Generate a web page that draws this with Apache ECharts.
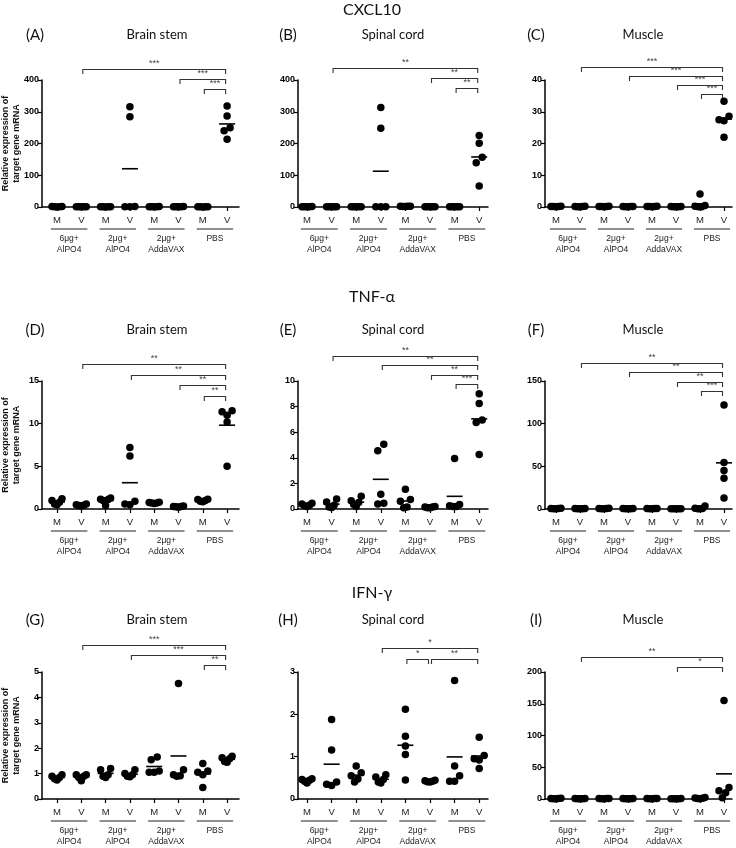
<!DOCTYPE html>
<html>
<head>
<meta charset="utf-8">
<script src="https://cdn.jsdelivr.net/npm/echarts@6/dist/echarts.min.js"></script>
<style>html,body{margin:0;padding:0;background:#fff}#main{width:736px;height:848px}</style>
</head>
<body>
<div id="main"></div>
<script>
// ---------- data ----------
const genes = ['CXCL10', 'TNF-α', 'IFN-γ'];
const tissues = ['Brain stem', 'Spinal cord', 'Muscle'];
const panelLetters = ['(A)', '(B)', '(C)', '(D)', '(E)', '(F)', '(G)', '(H)', '(I)'];
const subLabels = ['M', 'V', 'M', 'V', 'M', 'V', 'M', 'V'];
const groupLabels = ['6μg+\nAlPO4', '2μg+\nAlPO4', '2μg+\nAddaVAX', 'PBS'];
const yAxisTitle = 'Relative expression of\ntarget gene mRNA';

const yMax = [400, 400, 40, 15, 10, 150, 5, 3, 200];
const yInterval = [100, 100, 10, 5, 2, 50, 1, 1, 50];

// each panel: 8 groups (M,V per vaccine group), 5 animals each
const cxcl10_brainstem = [
  [1.2, 0.8, 0.5, 1.5, 0.3], [0.9, 0.6, 1.1, 0.4, 0.7],
  [0.5, 0.8, 0.3, 0.6, 1.0], [316, 284, 1.2, 0.8, 0.5],
  [0.7, 1.5, 0.9, 0.4, 1.1], [1.0, 0.8, 1.3, 0.6, 0.9],
  [0.4, 0.5, 0.7, 0.3, 0.6], [318, 287, 250, 240, 213]
];
const cxcl10_spinalcord = [
  [0.5, 0.8, 1.2, 0.6, 0.9], [0.7, 1.0, 0.5, 0.9, 1.1],
  [0.6, 0.9, 0.4, 0.8, 0.7], [313, 248, 0.9, 0.6, 0.8],
  [2.5, 1.8, 2.0, 1.5, 2.2], [0.6, 0.9, 0.7, 1.0, 0.5],
  [0.5, 0.7, 0.9, 0.6, 0.8], [225, 201, 157, 139, 66]
];
const cxcl10_muscle = [
  [0.15, 0.1, 0.2, 0.12, 0.18], [0.1, 0.15, 0.12, 0.2, 0.08],
  [0.12, 0.18, 0.1, 0.15, 0.2], [0.1, 0.14, 0.12, 0.17, 0.09],
  [0.15, 0.12, 0.2, 0.1, 0.18], [0.08, 0.12, 0.1, 0.15, 0.11],
  [4.1, 0.5, 0.2, 0.1, 0.1], [33.3, 28.6, 27.5, 27.2, 22.0]
];
const tnfa_brainstem = [
  [1.2, 1.0, 0.8, 0.6, 0.5], [0.6, 0.5, 0.45, 0.4, 0.35],
  [1.3, 1.15, 1.1, 1.0, 0.4], [7.2, 6.2, 0.9, 0.6, 0.5],
  [0.8, 0.75, 0.7, 0.7, 0.65], [0.35, 0.3, 0.3, 0.25, 0.2],
  [1.15, 1.1, 1.0, 0.9, 0.85], [11.5, 11.4, 11.0, 10.2, 5.0]
];
const tnfa_spinalcord = [
  [0.45, 0.4, 0.3, 0.25, 0.2], [0.78, 0.55, 0.3, 0.15, 0.12],
  [1.0, 0.65, 0.5, 0.35, 0.2], [5.05, 4.55, 1.15, 0.45, 0.4],
  [1.55, 0.75, 0.6, 0.15, 0.1], [0.2, 0.15, 0.15, 0.1, 0.1],
  [3.95, 0.35, 0.25, 0.2, 0.2], [9.0, 8.25, 6.95, 6.75, 4.25]
];
const tnfa_muscle = [
  [0.5, 0.3, 0.8, 0.4, 0.6], [0.3, 0.5, 0.4, 0.6, 0.2],
  [0.6, 0.4, 0.5, 0.8, 0.3], [0.3, 0.4, 0.5, 0.2, 0.6],
  [0.5, 0.7, 0.4, 0.6, 0.3], [0.2, 0.3, 0.4, 0.3, 0.2],
  [3.5, 1.0, 0.6, 0.4, 0.3], [122, 54.5, 45, 36, 13]
];
const ifng_brainstem = [
  [0.95, 0.9, 0.85, 0.8, 0.75], [0.95, 0.95, 0.9, 0.85, 0.72],
  [1.2, 1.15, 0.95, 0.9, 0.85], [1.15, 1.0, 0.95, 0.9, 0.88],
  [1.65, 1.55, 1.1, 1.05, 1.05], [4.55, 1.15, 0.95, 0.92, 0.9],
  [1.4, 1.1, 1.05, 0.95, 0.45], [1.68, 1.62, 1.58, 1.48, 1.45]
];
const ifng_spinalcord = [
  [0.48, 0.46, 0.44, 0.42, 0.38], [1.88, 1.16, 0.4, 0.35, 0.32],
  [0.78, 0.62, 0.55, 0.47, 0.4], [0.57, 0.52, 0.46, 0.4, 0.38],
  [2.12, 1.48, 1.25, 1.05, 0.45], [0.44, 0.43, 0.42, 0.41, 0.4],
  [2.8, 0.78, 0.55, 0.42, 0.42], [1.46, 1.03, 0.95, 0.92, 0.72]
];
const ifng_muscle = [
  [0.5, 0.8, 0.3, 1.0, 0.6], [0.4, 0.7, 0.5, 0.9, 0.3],
  [0.6, 0.5, 0.8, 0.4, 0.7], [0.5, 0.3, 0.6, 0.8, 0.4],
  [0.7, 0.4, 0.5, 0.9, 0.6], [0.3, 0.5, 0.4, 0.6, 0.5],
  [2.5, 1.5, 1.0, 0.8, 0.5], [155, 18, 13, 10, 2]
];
const panelData = [cxcl10_brainstem, cxcl10_spinalcord, cxcl10_muscle,
  tnfa_brainstem, tnfa_spinalcord, tnfa_muscle,
  ifng_brainstem, ifng_spinalcord, ifng_muscle];

// significance brackets: [fromGroup, toGroup, label, level]  (groups 1..8)
const brackets = [
  [[2, 8, '***', 0], [6, 8, '***', 1], [7, 8, '***', 2]],
  [[2, 8, '**', 0], [6, 8, '**', 1], [7, 8, '**', 2]],
  [[2, 8, '***', 0], [4, 8, '***', 1], [6, 8, '***', 2], [7, 8, '***', 3]],
  [[2, 8, '**', 0], [4, 8, '**', 1], [6, 8, '**', 2], [7, 8, '**', 3]],
  [[2, 8, '**', 0], [4, 8, '**', 1], [6, 8, '**', 2], [7, 8, '***', 3]],
  [[2, 8, '**', 0], [4, 8, '**', 1], [6, 8, '**', 2], [7, 8, '***', 3]],
  [[2, 8, '***', 0], [4, 8, '***', 1], [7, 8, '**', 2]],
  [[4, 8, '*', 0], [5, 6, '*', 1], [6, 8, '**', 1]],
  [[2, 8, '**', 0], [6, 8, '*', 1]]
];

// ---------- layout (style only) ----------
const cols = [
  { left: 42, width: 197, x1: 57, step: 24.3, title: 157, letter: 35 },
  { left: 298, width: 190, x1: 307, step: 24.6, title: 393, letter: 288 },
  { left: 545, width: 187, x1: 556, step: 24.0, title: 643, letter: 536 }
];
const rows = [
  { top: 80, height: 127, gene: 10, sub: 35 },
  { top: 381, height: 128, gene: 297, sub: 330 },
  { top: 672, height: 127, gene: 593, sub: 620 }
];
const bracketTop = [-11, -12, -13, -17, -25, -18, -27, -24, -15];
const bracketStep = [10, 10, 9, 10.7, 9.3, 9.3, 10, 11, 10];
const AX_FONT = '"Liberation Sans", Arial, sans-serif';
const TITLE_FONT = 'Lato, "Open Sans", sans-serif';

function centerOutOrder(k) {
  const pos = [];
  for (let i = 0; i < k; i++) pos.push(i - (k - 1) / 2);
  return pos.sort((a, b) => Math.abs(a) - Math.abs(b) || a - b);
}
function swarmOffsets(vals, pxPerY) {
  const idx = vals.map((v, i) => i).sort((a, b) => vals[a] - vals[b]);
  const off = new Array(vals.length).fill(0);
  let cl = [idx[0]];
  const flush = () => {
    const k = cl.length;
    if (k > 1) {
      const step = Math.min(6, 10 / (k - 1));
      const order = centerOutOrder(k);
      cl.forEach((id, j) => { off[id] = order[j] * step; });
    }
  };
  for (let j = 1; j < idx.length; j++) {
    if ((vals[idx[j]] - vals[idx[j - 1]]) * pxPerY < 6.5) cl.push(idx[j]);
    else { flush(); cl = [idx[j]]; }
  }
  flush();
  return off;
}
const mean = a => a.reduce((s, v) => s + v, 0) / a.length;

const chart = echarts.init(document.getElementById('main'), null, { renderer: 'canvas' });
const grid = [], xAxis = [], yAxis = [], series = [];
const cats = [1, 2, 3, 4, 5, 6, 7, 8];

panelData.forEach((groups, i) => {
  const r = Math.floor(i / 3), c = i % 3;
  const col = cols[c], row = rows[r];
  grid.push({ left: col.left, top: row.top, width: col.width, height: row.height });
  const xmin = 1 - (col.x1 - col.left) / col.step;
  const xmax = xmin + col.width / col.step;
  xAxis.push({
    gridIndex: i, type: 'value', min: xmin, max: xmax, position: 'bottom',
    axisLine: { show: true, onZero: false, lineStyle: { color: '#000', width: 1.5 } },
    axisTick: { show: true, customValues: cats, length: 4, lineStyle: { color: '#000', width: 1.2 } },
    axisLabel: { show: true, customValues: cats, formatter: v => subLabels[Math.round(v) - 1],
      margin: 8, fontSize: 9.5, color: '#222', fontFamily: AX_FONT },
    splitLine: { show: false }
  });
  xAxis.push({
    gridIndex: i, type: 'value', min: xmin, max: xmax, position: 'bottom',
    axisLine: { show: false }, axisTick: { show: false }, splitLine: { show: false },
    axisLabel: { show: true, customValues: [1.5, 3.5, 5.5, 7.5],
      formatter: v => groupLabels[Math.round((v - 1.5) / 2)],
      margin: 26, fontSize: 8.5, lineHeight: 11, color: '#222', fontFamily: AX_FONT }
  });
  yAxis.push({
    gridIndex: i, type: 'value', min: 0, max: yMax[i], interval: yInterval[i],
    axisLine: { show: true, onZero: false, lineStyle: { color: '#000', width: 1.5 } },
    axisTick: { show: true, length: 4, lineStyle: { color: '#000', width: 1.2 } },
    axisLabel: { fontWeight: 'bold', fontSize: 9, color: '#000', margin: 3, fontFamily: AX_FONT },
    splitLine: { show: false }
  });
  const pxPerY = row.height / yMax[i];
  const pts = [], means = [];
  groups.forEach((vals, g) => {
    const off = swarmOffsets(vals, pxPerY);
    vals.forEach((v, k) => pts.push([g + 1 + off[k] / col.step, v]));
    means.push([g + 1, mean(vals)]);
  });
  series.push({
    type: 'scatter', xAxisIndex: 2 * i, yAxisIndex: i, data: pts,
    symbol: 'circle', symbolSize: 7.5, itemStyle: { color: '#000', opacity: 1 }, silent: true, z: 3
  });
  series.push({
    type: 'scatter', xAxisIndex: 2 * i, yAxisIndex: i, data: means,
    symbol: 'rect', symbolSize: [16, 1.6], itemStyle: { color: '#000', opacity: 1 }, silent: true, z: 4
  });
});

chart.setOption({ animation: false, grid, xAxis, yAxis, series });

// ---------- annotations ----------
const gfx = [];
function txt(text, x, y, font, opts) {
  return Object.assign({
    type: 'text', x, y, silent: true,
    style: Object.assign({ text, font, fill: '#111', align: 'center', verticalAlign: 'middle',
      textAlign: 'center', textVerticalAlign: 'middle' }, opts || {})
  });
}
genes.forEach((gname, r) => gfx.push(txt(gname, 372, rows[r].gene, '16px ' + TITLE_FONT)));
panelLetters.forEach((L, i) => {
  const r = Math.floor(i / 3), c = i % 3;
  gfx.push(txt(L, cols[c].letter, rows[r].sub, '15px ' + TITLE_FONT));
  gfx.push(txt(tissues[c], cols[c].title, rows[r].sub, '13px ' + TITLE_FONT));
});
rows.forEach(row => {
  const t = txt(yAxisTitle, 11, row.top + row.height / 2, 'bold 9px ' + AX_FONT, { lineHeight: 11 });
  t.rotation = Math.PI / 2;
  gfx.push(t);
});
panelData.forEach((groups, i) => {
  const r = Math.floor(i / 3);
  const row = rows[r];
  const px = v => chart.convertToPixel({ xAxisIndex: 2 * i }, v);
  const yb = row.top + row.height;
  for (let g = 0; g < 4; g++) {
    const cx = 1.5 + 2 * g;
    gfx.push({ type: 'line', silent: true, shape: { x1: px(cx - 0.75), y1: yb + 22, x2: px(cx + 0.75), y2: yb + 22 },
      style: { stroke: '#222', lineWidth: 1.2 } });
  }
  brackets[i].forEach(([a, b, lab, lvl]) => {
    const y = Math.round(row.top + bracketTop[i] + lvl * bracketStep[i]) + 0.5;
    const x1 = px(a) + 1.5, x2 = px(b) - 1.5;
    gfx.push({ type: 'polyline', silent: true,
      shape: { points: [[x1, y + 4.5], [x1, y], [x2, y], [x2, y + 4.5]] },
      style: { stroke: '#333', lineWidth: 1.1, fill: null } });
    gfx.push(txt(lab, (x1 + x2) / 2, y - 1, '9px ' + AX_FONT,
      { fill: '#444', verticalAlign: 'bottom', textVerticalAlign: 'bottom' }));
  });
});
chart.setOption({ graphic: { elements: gfx } });
</script>
</body>
</html>
